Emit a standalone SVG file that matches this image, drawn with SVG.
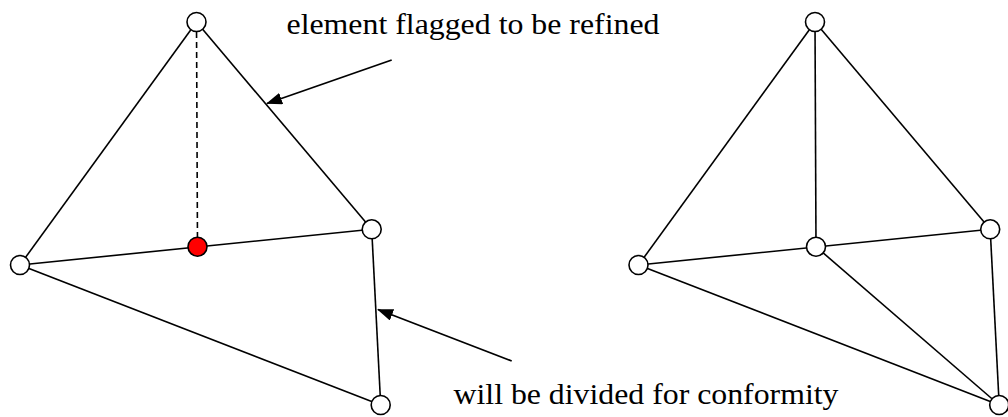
<svg xmlns="http://www.w3.org/2000/svg" width="1008" height="417" viewBox="0 0 1008 417">
<style>
.e{stroke:#000;stroke-width:1.6;fill:none}
.d{stroke:#000;stroke-width:1.6;fill:none;stroke-dasharray:6,4}
.n{fill:#fff;stroke:#000;stroke-width:1.6}
.r{fill:#f00;stroke:#000;stroke-width:1.6}
.a{stroke:#000;stroke-width:1.8;fill:none;marker-end:url(#ah)}
</style>
<defs>
<marker id="ah" markerWidth="16" markerHeight="12" refX="15" refY="6" orient="auto" markerUnits="userSpaceOnUse" viewBox="0 0 16 12">
<path d="M0,0 L16,6 L0,12 z" fill="#000"/>
</marker>
</defs>
<g id="connectors">
<line class="e" x1="196.5" y1="22" x2="20" y2="265"/>
<line class="e" x1="196.5" y1="22" x2="371.7" y2="229.3"/>
<line class="d" x1="196.5" y1="22" x2="197.5" y2="246.7"/>
<line class="e" x1="20" y1="265" x2="371.7" y2="229.3"/>
<line class="e" x1="20" y1="265" x2="380.7" y2="405"/>
<line class="e" x1="371.7" y1="229.3" x2="380.7" y2="405"/>
<line class="e" x1="815" y1="22" x2="638.5" y2="265"/>
<line class="e" x1="815" y1="22" x2="990.2" y2="229.3"/>
<line class="e" x1="815" y1="22" x2="816" y2="246.7"/>
<line class="e" x1="638.5" y1="265" x2="990.2" y2="229.3"/>
<line class="e" x1="638.5" y1="265" x2="999.2" y2="405"/>
<line class="e" x1="990.2" y1="229.3" x2="999.2" y2="405"/>
<line class="e" x1="816" y1="246.7" x2="999.2" y2="405"/>
<line class="a" x1="391.7" y1="60" x2="267" y2="103.5"/>
<line class="a" x1="511.7" y1="361" x2="378" y2="309.5"/>
</g>
<g id="n1"><circle class="n" cx="196.5" cy="22" r="9.5"/></g>
<g id="n2"><circle class="n" cx="20" cy="265" r="9.5"/></g>
<g id="n3"><circle class="r" cx="197.5" cy="246.7" r="9.5"/></g>
<g id="n4"><circle class="n" cx="371.7" cy="229.3" r="9.5"/></g>
<g id="n5"><circle class="n" cx="380.7" cy="405" r="9.5"/></g>
<g id="m1"><circle class="n" cx="815" cy="22" r="9.5"/></g>
<g id="m2"><circle class="n" cx="638.5" cy="265" r="9.5"/></g>
<g id="m3"><circle class="n" cx="816" cy="246.7" r="9.5"/></g>
<g id="m4"><circle class="n" cx="990.2" cy="229.3" r="9.5"/></g>
<g id="m5"><circle class="n" cx="999.2" cy="405" r="9.5"/></g>
<g id="labels" font-family="Liberation Serif, Tinos, DejaVu Serif, serif" font-size="29" fill="#000">
<text x="286.5" y="33.5" textLength="373" lengthAdjust="spacingAndGlyphs">element flagged to be refined</text>
<text x="453.5" y="403.5" textLength="385" lengthAdjust="spacingAndGlyphs">will be divided for conformity</text>
</g>
</svg>
